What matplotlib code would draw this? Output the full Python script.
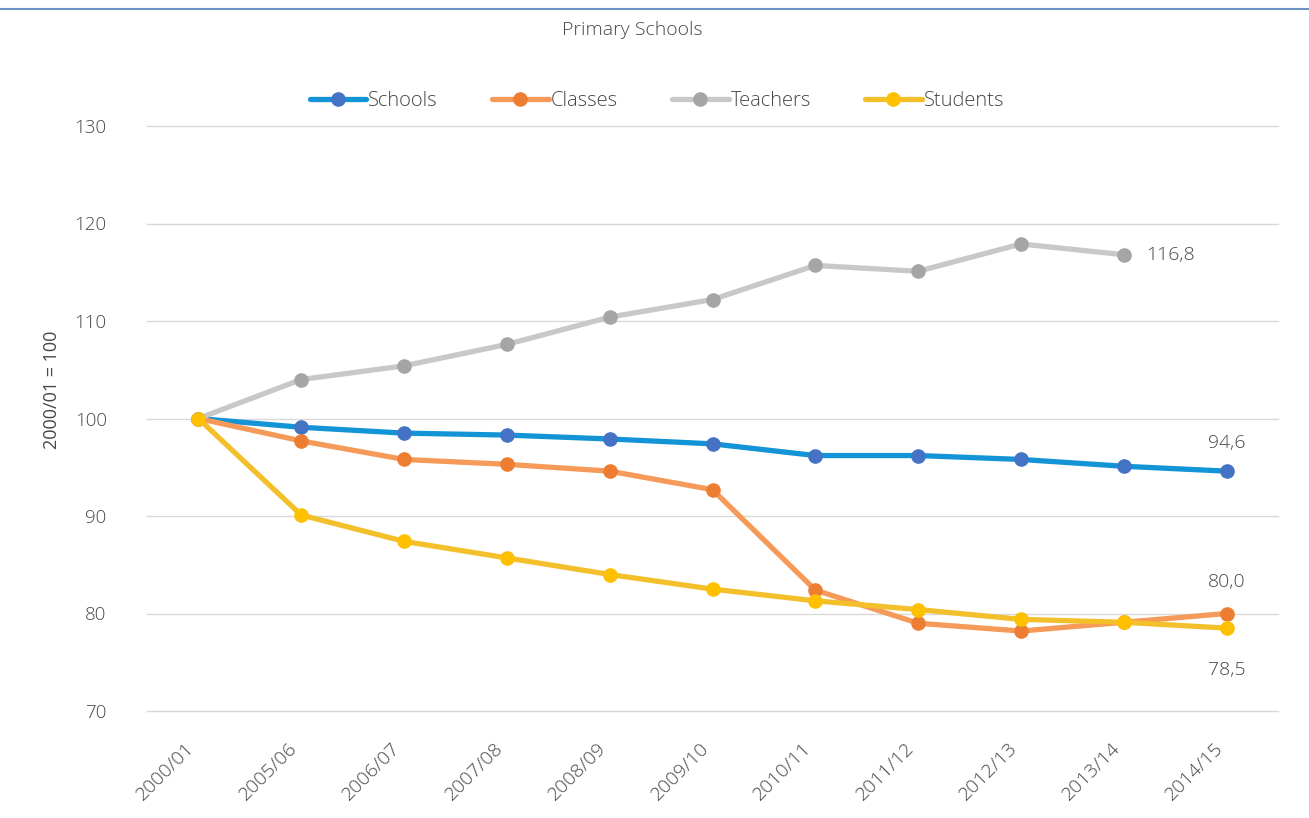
import matplotlib.pyplot as plt
import matplotlib.transforms as mtransforms
import numpy as np

plt.rcParams['font.family'] = ['Open Sans', 'DejaVu Sans']
plt.rcParams['font.weight'] = 'light'

years = ['2000/01', '2005/06', '2006/07', '2007/08', '2008/09', '2009/10',
         '2010/11', '2011/12', '2012/13', '2013/14', '2014/15']

schools = [100, 99.1, 98.5, 98.3, 97.9, 97.4, 96.2, 96.2, 95.8, 95.1, 94.6]
classes = [100, 97.7, 95.8, 95.3, 94.6, 92.7, 82.4, 79.0, 78.2, 79.1, 80.0]
teachers = [100, 104.0, 105.4, 107.6, 110.4, 112.2, 115.7, 115.1, 117.9, 116.8]
students = [100, 90.1, 87.4, 85.7, 84.0, 82.5, 81.3, 80.4, 79.4, 79.1, 78.5]

# (name, values, line colour, marker colour)
series = [
    ('Schools', schools, '#1394D6', '#4472C4'),
    ('Classes', classes, '#F59A58', '#ED7D31'),
    ('Teachers', teachers, '#C8C8C8', '#A5A5A5'),
    ('Students', students, '#F3C02B', '#FFC000'),
]

text_col = '#474747'

fig = plt.figure(figsize=(13.09, 8.18), dpi=100)
ax = fig.add_axes([147 / 1309, 1 - 711 / 818, (1278 - 147) / 1309, (711 - 126) / 818])

x = np.arange(len(years))
for name, vals, lc, mc in series:
    ax.plot(x[:len(vals)], vals, color=lc, lw=3.8, marker='o', ms=9.5,
            markerfacecolor=mc, markeredgecolor=mc, label=name,
            solid_capstyle='round')

ax.set_xlim(-0.5, len(years) - 0.5)
ax.set_ylim(70, 130)
ax.set_yticks(np.arange(70, 131, 10))
ax.set_xticks(x)
ax.set_xticklabels(years, rotation=45, ha='right', rotation_mode='anchor')
ax.tick_params(length=0, labelsize=13.5, colors=text_col)
ax.tick_params(axis='y', pad=29)
ax.tick_params(axis='x', pad=20, labelsize=14)
shift = mtransforms.ScaledTranslation(-13 / 100, 0, fig.dpi_scale_trans)
for lbl in ax.get_xticklabels():
    lbl.set_transform(lbl.get_transform() + shift)
ax.grid(axis='y', color='#D9D9D9', lw=1)
for gl in ax.get_ygridlines():
    gl.set_clip_on(False)
ax.set_axisbelow(True)
for s in ax.spines.values():
    s.set_visible(False)

ax.set_ylabel('2000/01 = 100', color=text_col, fontsize=13)
ax.yaxis.set_label_coords(-0.076, 0.549)

# data labels at the last points
ax.annotate('116,8', (9, teachers[-1]), xytext=(16, 0), textcoords='offset points',
            ha='left', va='center', color=text_col, fontsize=14)
ax.annotate('94,6', (10, schools[-1]), xytext=(0, 20), textcoords='offset points',
            ha='center', va='center', color=text_col, fontsize=14)
ax.annotate('80,0', (10, classes[-1]), xytext=(0, 23), textcoords='offset points',
            ha='center', va='center', color=text_col, fontsize=14)
ax.annotate('78,5', (10, students[-1]), xytext=(0, -30), textcoords='offset points',
            ha='center', va='center', color=text_col, fontsize=14)

fig.text(632 / 1309, 1 - 30 / 818, 'Primary Schools', ha='center', va='center',
         color=text_col, fontsize=14)

leg = fig.legend(loc='center', bbox_to_anchor=(657 / 1309, 1 - 101 / 818), ncol=4,
                 frameon=False, fontsize=14.5, handlelength=2.8, columnspacing=2.7,
                 handletextpad=0.1)
for t in leg.get_texts():
    t.set_color(text_col)

# thin blue rule along the top edge
fig.add_artist(plt.Line2D([0, 1], [1 - 9 / 818, 1 - 9 / 818], color='#6F93C0', lw=1.5,
                          transform=fig.transFigure))

fig.savefig('out.png', dpi=100, facecolor='white')
